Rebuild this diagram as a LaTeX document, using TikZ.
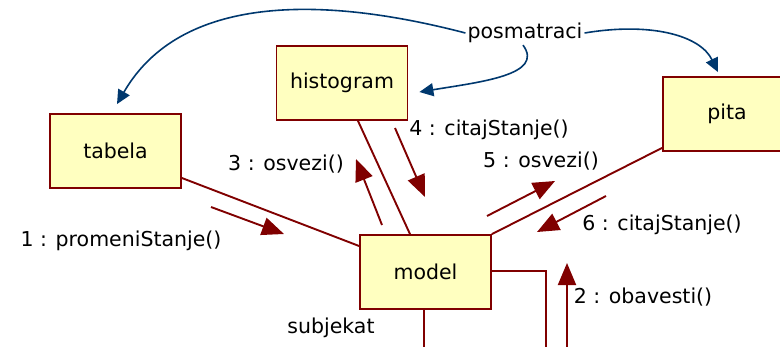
\documentclass[tikz,border=0pt]{standalone}
\usepackage{fontspec}
\setmainfont{DejaVu Sans}
\usetikzlibrary{arrows.meta}
\definecolor{umlred}{RGB}{128,0,0}
\definecolor{umlfill}{RGB}{255,255,192}
\definecolor{umlblue}{RGB}{0,56,110}

\begin{document}
\begin{tikzpicture}[x=1pt,y=-1pt,font=\fontsize{20.5}{24}\selectfont,
    obj/.style={draw=umlred,line width=1.8pt,fill=umlfill,minimum width=131pt,minimum height=74pt,inner sep=0pt},
    assoc/.style={umlred,line width=1.9pt},
    msg/.style={umlred,line width=1.9pt,-{Triangle[length=22pt,width=18pt]}},
    role/.style={umlblue,line width=1.6pt,-{Triangle[length=14pt,width=13pt]}},
    lbl/.style={inner sep=0pt}]
    \clip (0,0) rectangle (780,346);
    % Draw the objects
    \node[obj] (tabela) at (115.5,151) {tabela};
    \node[obj] (histogram) at (342,83) {histogram};
    \node[obj,minimum width=128pt] (pita) at (727,114) {pita};
    \node[obj] (model) at (425.5,272) {model};
    % Draw links to the model
    \draw[assoc] ([yshift=-27pt]tabela.east) -- ([yshift=26pt]model.west);
    \draw[assoc] ([xshift=16pt]histogram.south) -- ([xshift=-15.5pt]model.north);
    \draw[assoc] ([yshift=4pt]pita.south west) -- (model.north east);
    % Self link runs off the page
    \coordinate (loopa) at (546,360);
    \coordinate (loopb) at (424,360);
    \draw[assoc] ([yshift=1pt]model.east) -| (loopa);
    \draw[assoc] (model.south -| loopb) -- (loopb);
    % Draw messages
    \foreach \n/\sx/\sy/\ex/\ey in {1/211/207/284/234,2/567/350/567/263,3/382/225/356/159,
                                     4/395/128/425/197,5/487/216/555/181,6/606/196/537/232} {
      \coordinate (m\n a) at (\sx,\sy);
      \coordinate (m\n b) at (\ex,\ey);
      \draw[msg] (m\n a) -- (m\n b);
    }
    \node[lbl] (l1) at (121,241) {1 : promeniStanje()};
    \node[lbl] (l2) at (643,297) {2 : obavesti()};
    \node[lbl] (l3) at (286,164) {3 : osvezi()};
    \node[lbl] (l4) at (489,130) {4 : citajStanje()};
    \node[lbl] (l5) at (541,161) {5 : osvezi()};
    \node[lbl] (l6) at (662,225) {6 : citajStanje()};
    \node[lbl] (subj) at (331,328) {subjekat};
    % Observers
    \node[inner sep=2pt] (obs) at (525,33) {posmatraci};
    \draw[role] (obs.west) .. controls (320,-5) and (180,-5) .. ([shift={(1.5pt,9pt)}]tabela.north);
    \draw[role] ([xshift=-2pt]obs.south) .. controls (545,75) and (480,82) .. ([shift={(11pt,-9pt)}]histogram.east);
    \draw[role] (obs.east) .. controls (650,22) and (700,35) .. ([shift={(-9pt,4pt)}]pita.north);
\end{tikzpicture}
\end{document}
